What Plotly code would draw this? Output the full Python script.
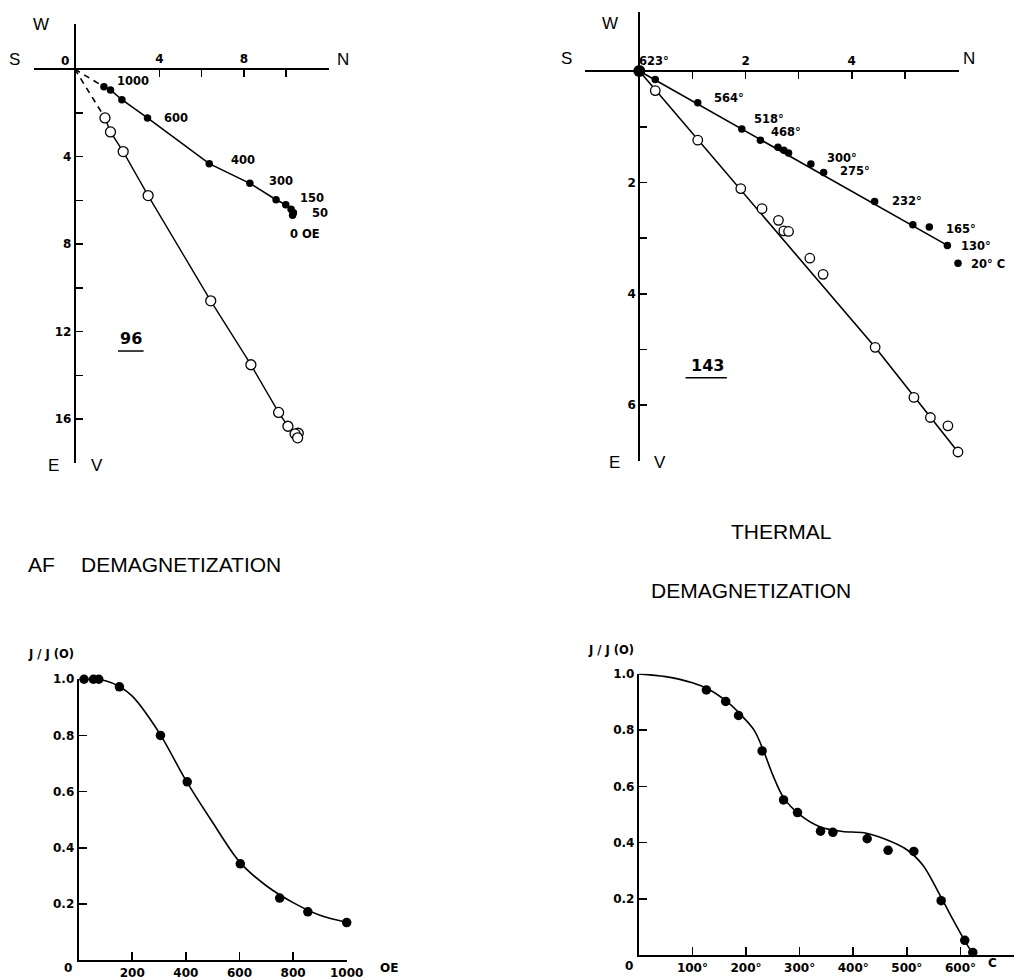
import plotly.graph_objects as go

W, H = 1035, 980

# ---------------- DATA ----------------
# Specimen 96, AF demagnetization (orthogonal projection, units as on axes)
tl_h_n = [1.38, 1.69, 2.23, 3.44, 6.36, 8.28, 9.52, 9.98, 10.23, 10.34, 10.30]   # N component (filled)
tl_h_e = [0.81, 0.95, 1.40, 2.23, 4.32, 5.22, 5.97, 6.20, 6.41, 6.56, 6.68]      # E component (filled)
tl_v_n = [1.43, 1.69, 2.29, 3.47, 6.43, 8.33, 9.64, 10.08, 10.57, 10.42, 10.54]  # N component (open)
tl_v_v = [2.23, 2.87, 3.77, 5.78, 10.59, 13.51, 15.69, 16.32, 16.64, 16.67, 16.85]  # V component (open)
tl_labels = ['1000', '600', '400', '300', '150', '50', '0 OE']
tl_label_idx = [0, 3, 4, 5, 7, 9, 10]
tl_xticks = [4, 6, 8, 10, 12]
tl_xticktext = ['4', '', '8', '', '']
tl_yticks = [2, 4, 6, 8, 10, 12, 14, 16, 18]
tl_yticktext = ['', '4', '', '8', '', '12', '', '16', '']

# Specimen 143, thermal demagnetization
tr_h_n = [0.0, 0.30, 1.10, 1.93, 2.28, 2.61, 2.72, 2.81, 3.23, 3.47, 4.43, 5.15, 5.46, 5.80, 6.0]
tr_h_e = [0.0, 0.15, 0.57, 1.04, 1.24, 1.37, 1.42, 1.47, 1.67, 1.82, 2.34, 2.76, 2.80, 3.13, 3.45]
tr_v_n = [0.30, 1.10, 1.91, 2.31, 2.62, 2.72, 2.81, 3.21, 3.46, 4.44, 5.17, 5.48, 5.81, 6.0]
tr_v_v = [0.35, 1.24, 2.11, 2.47, 2.68, 2.87, 2.88, 3.36, 3.65, 4.96, 5.86, 6.22, 6.37, 6.84]
tr_fit_h_n = [0.0, 5.80]
tr_fit_h_e = [0.0, 3.13]
tr_fit_v_n = [0.0, 4.44, 6.0]
tr_fit_v_v = [0.0, 4.96, 6.84]
tr_labels = ['623°', '564°', '518°', '468°', '300°', '275°', '232°', '165°', '130°', '20° C']
tr_label_idx = [0, 2, 3, 4, 8, 9, 10, 12, 13, 14]
tr_xticks = [1, 2, 3, 4, 5, 6]
tr_xticktext = ['', '2', '', '4', '', '']
tr_yticks = [1, 2, 3, 4, 5, 6, 7]
tr_yticktext = ['', '2', '', '4', '', '6', '']

# AF decay curve J/J(0)
af_field = [20, 55, 75, 152, 305, 405, 603, 750, 855, 1000]
af_j = [1.0, 1.0, 1.0, 0.973, 0.80, 0.635, 0.343, 0.221, 0.172, 0.134]
af_curve_x = [0, 50, 100, 150, 200, 300, 400, 500, 600, 700, 800, 900, 1000]
af_curve_y = [1.0, 1.0, 0.995, 0.975, 0.94, 0.81, 0.64, 0.49, 0.35, 0.265, 0.205, 0.16, 0.135]
bl_xticks = [200, 400, 600, 800, 1000]
bl_xticktext = ['200', '400', '600', '800', '1000']
j_ticks = [0.2, 0.4, 0.6, 0.8, 1.0]
j_ticktext = ['0.2', '0.4', '0.6', '0.8', '1.0']

# Thermal decay curve J/J(0)
th_temp = [126, 162, 186, 230, 270, 296, 339, 362, 426, 465, 513, 564, 608, 623]
th_j = [0.943, 0.902, 0.852, 0.726, 0.552, 0.507, 0.441, 0.437, 0.414, 0.373, 0.369, 0.194, 0.053, 0.01]
th_curve_x = [0, 50, 100, 130, 165, 190, 215, 232, 250, 270, 300, 340, 380, 420, 460, 500, 530, 560, 585, 610, 625]
th_curve_y = [1.0, 0.99, 0.968, 0.945, 0.9, 0.855, 0.8, 0.73, 0.64, 0.56, 0.5, 0.455, 0.44, 0.435, 0.412, 0.375, 0.32, 0.22, 0.13, 0.045, 0.0]
br_xticks = [100, 200, 300, 400, 500, 600, 700]
br_xticktext = ['100°', '200°', '300°', '400°', '500°', '600°', '']

# ---------------- STYLE / GEOMETRY ----------------
def P(px):
    return px / W

def Q(py):
    return 1 - py / H

INK = 'black'
TICKF = dict(family='DejaVu Sans', size=12, color=INK, weight='bold')
LBLF = dict(family='DejaVu Sans', size=11.5, color=INK, weight='bold')
BIGF = dict(family='Liberation Sans', size=17, color=INK)
TITF = dict(family='Liberation Sans', size=21, color=INK)
NUMF = dict(family='DejaVu Sans', size=16, color=INK, weight='bold')

common = dict(showgrid=False, zeroline=False, showline=True, linecolor=INK, linewidth=2,
              ticks='inside', tickcolor=INK, tickwidth=1.6, ticklen=7, tickfont=TICKF,
              fixedrange=True, tickmode='array')

# top-left frame (origin px, px per unit)
tl_x0, tl_y0, tl_sx, tl_sy = 76, 63, 21.5, 22.2
tl_left, tl_right, tl_top, tl_bot = 35, 334, 17, 63 + 22.2 * 18
# top-right frame
tr_x0, tr_y0, tr_sx, tr_sy = 650, 65, 54.0, 56.5
tr_left, tr_right, tr_top, tr_bot = 595, 975, 5, 65 + 56.5 * 7

fig = go.Figure()

FILLED = lambda s: dict(color=INK, size=s, opacity=1, line=dict(width=0))

# ---- top-left traces ----
fig.add_trace(go.Scatter(x=[0, tl_h_n[0]], y=[0, tl_h_e[0]], mode='lines',
                         line=dict(color=INK, width=1.6, dash='6px,5px'), xaxis='x', yaxis='y', hoverinfo='skip'))
fig.add_trace(go.Scatter(x=[0, tl_v_n[0]], y=[0, tl_v_v[0]], mode='lines',
                         line=dict(color=INK, width=1.6, dash='6px,5px'), xaxis='x', yaxis='y', hoverinfo='skip'))
fig.add_trace(go.Scatter(x=tl_h_n, y=tl_h_e, mode='lines+markers', xaxis='x', yaxis='y',
                         line=dict(color=INK, width=1.6),
                         marker=FILLED(7.5), cliponaxis=False))
fig.add_trace(go.Scatter(x=tl_v_n, y=tl_v_v, mode='lines+markers', xaxis='x', yaxis='y',
                         line=dict(color=INK, width=1.4),
                         marker=dict(color='white', size=10, opacity=1, line=dict(color=INK, width=1.3)),
                         cliponaxis=False))

# ---- top-right traces ----
fig.add_trace(go.Scatter(x=tr_fit_h_n, y=tr_fit_h_e, mode='lines', xaxis='x2', yaxis='y2',
                         line=dict(color=INK, width=1.6), hoverinfo='skip'))
fig.add_trace(go.Scatter(x=tr_fit_v_n, y=tr_fit_v_v, mode='lines', xaxis='x2', yaxis='y2',
                         line=dict(color=INK, width=1.6), hoverinfo='skip'))
fig.add_trace(go.Scatter(x=tr_v_n, y=tr_v_v, mode='markers', xaxis='x2', yaxis='y2',
                         marker=dict(color='white', size=9.5, opacity=1, line=dict(color=INK, width=1.3)),
                         cliponaxis=False))
fig.add_trace(go.Scatter(x=tr_h_n, y=tr_h_e, mode='markers', xaxis='x2', yaxis='y2',
                         marker=FILLED([12] + [7.5] * (len(tr_h_n) - 1)), cliponaxis=False))

# ---- bottom-left traces ----
fig.add_trace(go.Scatter(x=af_curve_x, y=af_curve_y, mode='lines', line_shape='spline',
                         line=dict(color=INK, width=1.6, smoothing=0.9), xaxis='x3', yaxis='y3', hoverinfo='skip'))
fig.add_trace(go.Scatter(x=af_field, y=af_j, mode='markers', xaxis='x3', yaxis='y3',
                         marker=FILLED(9.5), cliponaxis=False))

# ---- bottom-right traces ----
fig.add_trace(go.Scatter(x=th_curve_x, y=th_curve_y, mode='lines', line_shape='spline',
                         line=dict(color=INK, width=1.6, smoothing=0.9), xaxis='x4', yaxis='y4', hoverinfo='skip'))
fig.add_trace(go.Scatter(x=th_temp, y=th_j, mode='markers', xaxis='x4', yaxis='y4',
                         marker=FILLED(9.5), cliponaxis=False))

# ---------------- AXES ----------------
fig.update_layout(
    width=W, height=H, margin=dict(l=0, r=0, t=0, b=0),
    paper_bgcolor='white', plot_bgcolor='white', showlegend=False,
    xaxis=dict(common, domain=[P(tl_left), P(tl_right)],
               range=[(tl_left - tl_x0) / tl_sx, (tl_right - tl_x0) / tl_sx],
               anchor='free', position=Q(tl_y0), side='top',
               tickvals=tl_xticks, ticktext=tl_xticktext),
    yaxis=dict(common, domain=[Q(tl_bot), Q(tl_top)],
               range=[(tl_bot - tl_y0) / tl_sy, (tl_top - tl_y0) / tl_sy],
               anchor='free', position=P(tl_x0), side='left',
               tickvals=tl_yticks, ticktext=tl_yticktext),
    xaxis2=dict(common, domain=[P(tr_left), P(tr_right)],
                range=[(tr_left - tr_x0) / tr_sx, (tr_right - tr_x0) / tr_sx],
                anchor='free', position=Q(tr_y0), side='top',
                tickvals=tr_xticks, ticktext=tr_xticktext),
    yaxis2=dict(common, domain=[Q(tr_bot), Q(tr_top)],
                range=[(tr_bot - tr_y0) / tr_sy, (tr_top - tr_y0) / tr_sy],
                anchor='free', position=P(tr_x0), side='left',
                tickvals=tr_yticks, ticktext=tr_yticktext),
    xaxis3=dict(common, domain=[P(80), P(352.5)], range=[0, 1000], anchor='y3',
                tickvals=bl_xticks, ticktext=bl_xticktext, ticklen=8),
    yaxis3=dict(common, domain=[Q(967), Q(682)], range=[0, 1.0], anchor='x3',
                tickvals=j_ticks, ticktext=j_ticktext, ticklen=8),
    xaxis4=dict(common, domain=[P(649.5), P(1031)], range=[0, 700], anchor='y4',
                tickvals=br_xticks, ticktext=br_xticktext, ticklen=8),
    yaxis4=dict(common, domain=[Q(962), Q(676.5)], range=[0, 1.0], anchor='x4',
                tickvals=j_ticks, ticktext=j_ticktext, ticklen=8),
)

# ---------------- ANNOTATIONS ----------------
ann = []

def paper_text(text, px, py, font, xanchor='center'):
    ann.append(dict(text=text, x=P(px), y=Q(py), xref='paper', yref='paper',
                    showarrow=False, font=font, xanchor=xanchor, yanchor='middle'))

# point labels (offsets in px from their point)
tl_off = [(29, -6), (29, 0), (34, -4), (31, -2), (26, -7), (27, 0), (12, 19)]
for t, i, (dx, dy) in zip(tl_labels, tl_label_idx, tl_off):
    ann.append(dict(text=t, x=tl_h_n[i], y=tl_h_e[i], xref='x', yref='y', showarrow=False,
                    font=LBLF, xshift=dx, yshift=-dy))
tr_off = [(15, -10), (31, -5), (27, -10), (26, -8), (31, -6), (31, -1), (32, 0), (32, 2), (29, 1), (30, 1)]
for t, i, (dx, dy) in zip(tr_labels, tr_label_idx, tr_off):
    ann.append(dict(text=t, x=tr_h_n[i], y=tr_h_e[i], xref='x2', yref='y2', showarrow=False,
                    font=LBLF, xshift=dx, yshift=-dy))

# compass letters
for t, px, py in [('S', 15, 53), ('N', 349, 53), ('W', 42, 18), ('E', 54, 465), ('V', 99, 465),
                  ('S', 576, 52), ('N', 985, 52), ('W', 620, 17), ('E', 625, 462), ('V', 671, 462)]:
    paper_text(t, px, py, BIGF)

paper_text('0', 66.5, 55, TICKF)
paper_text('96', 133, 336, NUMF)
paper_text('143', 719.5, 364, NUMF)

# titles
paper_text('AF', 26, 566, TITF, xanchor='left')
paper_text('DEMAGNETIZATION', 80, 566, TITF, xanchor='left')
paper_text('THERMAL', 794.5, 532, TITF)
paper_text('DEMAGNETIZATION', 763.5, 592, TITF)

# decay-plot labels
paper_text('J / J (O)', 52, 656, LBLF)
paper_text('J / J (O)', 621, 652.5, LBLF)
paper_text('0', 69, 975, TICKF)
paper_text('OE', 395, 975, TICKF)
paper_text('0', 640, 973, TICKF)
paper_text('C', 1009, 970, TICKF)

fig.update_layout(annotations=ann)

# underlines of specimen numbers
shapes = []
for x0, x1, yy in [(120, 146, 349), (697, 739, 376)]:
    shapes.append(dict(type='line', xref='paper', yref='paper', x0=P(x0), x1=P(x1), y0=Q(yy), y1=Q(yy),
                       line=dict(color=INK, width=1.5)))
fig.update_layout(shapes=shapes)

fig.write_html("out.html", config={'displayModeBar': False, 'staticPlot': True},
               post_script="document.body.style.margin='0';document.body.style.overflow='hidden';")
